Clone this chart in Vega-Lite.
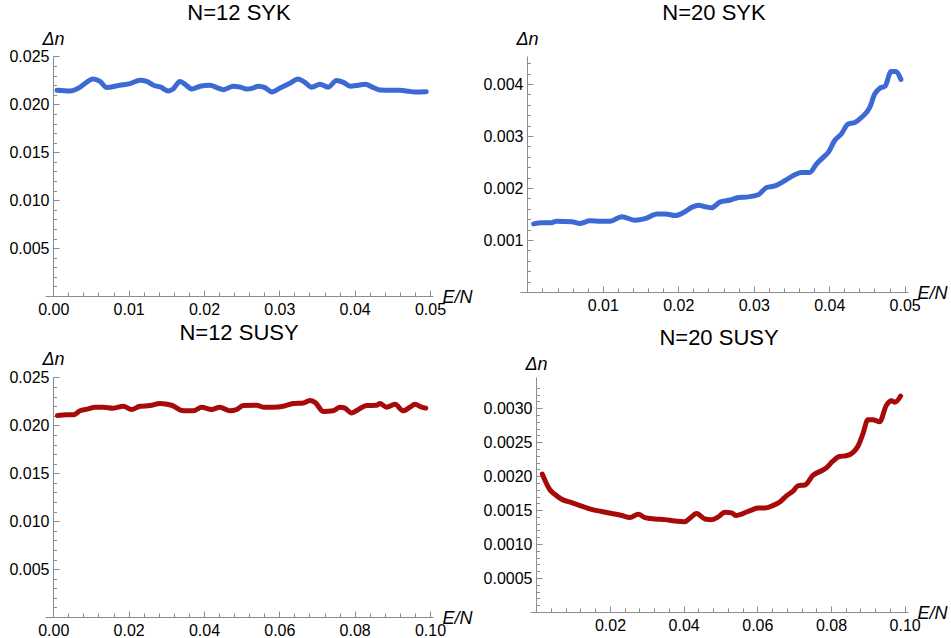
{
  "$schema": "https://vega.github.io/schema/vega-lite/v6.json",
  "padding": {"left": 8, "top": 2, "right": 4, "bottom": 4},
  "background": "white",
  "config": {
    "view": {"stroke": null},
    "axis": {"grid": false, "domainColor": "#8c8c8c", "tickColor": "#8c8c8c", "domainWidth": 1, "tickWidth": 1,
      "labelFont": "Liberation Sans", "labelFontSize": 16, "labelColor": "#000", "labelOverlap": false, "labelFlush": false,
      "tickSize": 0, "titleFont": "Liberation Sans", "titleFontSize": 18, "titleFontStyle": "italic", "titleFontWeight": "normal",
      "titleColor": "#000", "titleAngle": 0, "titlePadding": 0},
    "axisX": {"labelPadding": 5, "titleAlign": "left", "titleBaseline": "alphabetic", "titleY": 6},
    "axisY": {"labelPadding": 4, "titleAlign": "center", "titleBaseline": "alphabetic", "titleX": 0, "titleY": -12},
    "title": {"font": "Liberation Sans", "fontSize": 22, "fontWeight": "normal", "color": "#000", "frame": "group", "anchor": "middle", "offset": 5}
  },
  "datasets": {
    "syk12": [
      {"x":0.0005,"y":0.02147},{"x":0.0022,"y":0.0214},{"x":0.0033,"y":0.02168},{"x":0.0053,"y":0.02266},{"x":0.0062,"y":0.0224},{"x":0.0071,"y":0.02175},{"x":0.0088,"y":0.0220},{"x":0.0102,"y":0.02217},{"x":0.0115,"y":0.02252},{"x":0.0124,"y":0.0224},{"x":0.0133,"y":0.0220},{"x":0.0142,"y":0.02182},{"x":0.0153,"y":0.0214},{"x":0.0159,"y":0.0216},{"x":0.0168,"y":0.0224},{"x":0.0175,"y":0.0221},{"x":0.0184,"y":0.0216},{"x":0.0195,"y":0.0219},{"x":0.0208,"y":0.0220},{"x":0.0217,"y":0.02175},{"x":0.0226,"y":0.02154},{"x":0.0239,"y":0.0219},{"x":0.0248,"y":0.0218},{"x":0.0257,"y":0.0216},{"x":0.0265,"y":0.0217},{"x":0.0272,"y":0.0219},{"x":0.0281,"y":0.02175},{"x":0.0290,"y":0.0213},{"x":0.0301,"y":0.0217},{"x":0.0314,"y":0.0222},{"x":0.0325,"y":0.02266},{"x":0.0334,"y":0.0223},{"x":0.0343,"y":0.0218},{"x":0.0354,"y":0.0221},{"x":0.0365,"y":0.0218},{"x":0.0376,"y":0.0225},{"x":0.0385,"y":0.0223},{"x":0.0394,"y":0.0219},{"x":0.0405,"y":0.0220},{"x":0.0414,"y":0.0221},{"x":0.0425,"y":0.02175},{"x":0.0434,"y":0.0215},{"x":0.0447,"y":0.02147},{"x":0.0460,"y":0.02147},{"x":0.0469,"y":0.0214},{"x":0.0480,"y":0.0213},{"x":0.0495,"y":0.02133}
    ],
    "syk20": [
      {"x":0.00084,"y":0.00131},{"x":0.0019,"y":0.00133},{"x":0.0030,"y":0.00133},{"x":0.0039,"y":0.00136},{"x":0.0059,"y":0.00135},{"x":0.0070,"y":0.00132},{"x":0.0083,"y":0.00137},{"x":0.0097,"y":0.00136},{"x":0.0110,"y":0.00136},{"x":0.0125,"y":0.00145},{"x":0.0143,"y":0.00138},{"x":0.0156,"y":0.00141},{"x":0.0172,"y":0.0015},{"x":0.0183,"y":0.0015},{"x":0.0196,"y":0.00147},{"x":0.0207,"y":0.00153},{"x":0.0218,"y":0.00163},{"x":0.0227,"y":0.00167},{"x":0.0236,"y":0.00164},{"x":0.0244,"y":0.00162},{"x":0.0255,"y":0.00173},{"x":0.0269,"y":0.00177},{"x":0.0280,"y":0.00182},{"x":0.0293,"y":0.00183},{"x":0.0306,"y":0.00187},{"x":0.0317,"y":0.00201},{"x":0.0328,"y":0.00204},{"x":0.0341,"y":0.00214},{"x":0.0355,"y":0.00226},{"x":0.0363,"y":0.0023},{"x":0.0374,"y":0.0023},{"x":0.0383,"y":0.00246},{"x":0.0392,"y":0.00259},{"x":0.0399,"y":0.00269},{"x":0.0407,"y":0.00291},{"x":0.0416,"y":0.00304},{"x":0.0425,"y":0.00323},{"x":0.0434,"y":0.00326},{"x":0.0443,"y":0.00336},{"x":0.0454,"y":0.00356},{"x":0.0460,"y":0.0038},{"x":0.0467,"y":0.00392},{"x":0.0474,"y":0.00396},{"x":0.0482,"y":0.00424},{"x":0.0488,"y":0.00424},{"x":0.0495,"y":0.00409}
    ],
    "susy12": [
      {"x":0.0011,"y":0.02103},{"x":0.0035,"y":0.0211},{"x":0.0053,"y":0.0211},{"x":0.0071,"y":0.02152},{"x":0.0093,"y":0.02172},{"x":0.0111,"y":0.0219},{"x":0.0133,"y":0.0219},{"x":0.0159,"y":0.0218},{"x":0.0186,"y":0.0220},{"x":0.0208,"y":0.02166},{"x":0.0230,"y":0.0220},{"x":0.0257,"y":0.02207},{"x":0.0283,"y":0.02228},{"x":0.0314,"y":0.0221},{"x":0.0345,"y":0.02152},{"x":0.0372,"y":0.02152},{"x":0.0394,"y":0.0219},{"x":0.0420,"y":0.02166},{"x":0.0442,"y":0.0219},{"x":0.0469,"y":0.02152},{"x":0.0487,"y":0.02166},{"x":0.0504,"y":0.02207},{"x":0.0540,"y":0.0221},{"x":0.0558,"y":0.0219},{"x":0.0584,"y":0.0219},{"x":0.0611,"y":0.0220},{"x":0.0637,"y":0.02228},{"x":0.0664,"y":0.02234},{"x":0.0681,"y":0.0226},{"x":0.0695,"y":0.0224},{"x":0.0717,"y":0.02145},{"x":0.0743,"y":0.02152},{"x":0.0761,"y":0.0219},{"x":0.0774,"y":0.0218},{"x":0.0792,"y":0.0213},{"x":0.0810,"y":0.02166},{"x":0.0832,"y":0.02207},{"x":0.0858,"y":0.0221},{"x":0.0867,"y":0.02228},{"x":0.0885,"y":0.0219},{"x":0.0907,"y":0.0222},{"x":0.0929,"y":0.02152},{"x":0.0947,"y":0.0219},{"x":0.0960,"y":0.0222},{"x":0.0978,"y":0.0219},{"x":0.0989,"y":0.0218}
    ],
    "susy20": [
      {"x":0.00165,"y":0.00203},{"x":0.0026,"y":0.00191},{"x":0.0037,"y":0.0018},{"x":0.0051,"y":0.00173},{"x":0.0069,"y":0.00166},{"x":0.0096,"y":0.00161},{"x":0.0123,"y":0.00156},{"x":0.0150,"y":0.00151},{"x":0.0177,"y":0.00148},{"x":0.0205,"y":0.00145},{"x":0.0232,"y":0.00142},{"x":0.0254,"y":0.00139},{"x":0.0277,"y":0.00144},{"x":0.0295,"y":0.00139},{"x":0.0322,"y":0.00137},{"x":0.0349,"y":0.00136},{"x":0.0376,"y":0.00134},{"x":0.0403,"y":0.00133},{"x":0.0417,"y":0.00138},{"x":0.0435,"y":0.00145},{"x":0.0458,"y":0.00137},{"x":0.0476,"y":0.00136},{"x":0.0494,"y":0.0014},{"x":0.0512,"y":0.00147},{"x":0.0530,"y":0.00146},{"x":0.0543,"y":0.00142},{"x":0.0561,"y":0.00145},{"x":0.0584,"y":0.0015},{"x":0.0602,"y":0.00153},{"x":0.0620,"y":0.00153},{"x":0.0643,"y":0.00157},{"x":0.0661,"y":0.00162},{"x":0.0679,"y":0.00171},{"x":0.0697,"y":0.00178},{"x":0.0711,"y":0.00186},{"x":0.0729,"y":0.00187},{"x":0.0751,"y":0.00201},{"x":0.0774,"y":0.00208},{"x":0.0787,"y":0.00212},{"x":0.0805,"y":0.00222},{"x":0.0823,"y":0.00229},{"x":0.0841,"y":0.0023},{"x":0.0860,"y":0.00235},{"x":0.0873,"y":0.00244},{"x":0.0887,"y":0.00263},{"x":0.0900,"y":0.00283},{"x":0.0914,"y":0.00283},{"x":0.0932,"y":0.0028},{"x":0.0950,"y":0.00304},{"x":0.0964,"y":0.00311},{"x":0.0974,"y":0.00309},{"x":0.0989,"y":0.00318}
    ]
  },
  "vconcat": [
    {
      "hconcat": [
        {
          "title": {"text": "N=12 SYK"},
          "width": 388, "height": 240,
          "data": {"name": "syk12"},
          "mark": {"type": "line", "color": "#3c69d4", "strokeWidth": 5, "interpolate": "monotone", "strokeCap": "round", "strokeJoin": "round"},
          "encoding": {
            "x": {"field": "x", "type": "quantitative", "scale": {"domain": [-0.0011, 0.0504], "nice": false, "zero": false},
              "axis": {"title": "E/N", "titleX": 397,
                "values": [0,0.002,0.004,0.006,0.008,0.01,0.012,0.014,0.016,0.018,0.02,0.022,0.024,0.026,0.028,0.03,0.032,0.034,0.036,0.038,0.04,0.042,0.044,0.046,0.048,0.05],
                "labelExpr": "abs(datum.value*100-round(datum.value*100))<1e-6 ? format(datum.value,'.2f') : ''",
                "encoding": {"ticks": {"y2": {"condition": {"test": "abs(datum.value*100-round(datum.value*100))<1e-6", "value": -6}, "value": -4}}}}},
            "y": {"field": "y", "type": "quantitative", "scale": {"domain": [0, 0.02505], "nice": false, "zero": false},
              "axis": {"title": "Δn", "offset": -8,
                "values": [0.001,0.002,0.003,0.004,0.005,0.006,0.007,0.008,0.009,0.01,0.011,0.012,0.013,0.014,0.015,0.016,0.017,0.018,0.019,0.02,0.021,0.022,0.023,0.024,0.025],
                "labelExpr": "abs(datum.value*200-round(datum.value*200))<1e-6 ? format(datum.value,'.3f') : ''",
                "encoding": {"ticks": {"x2": {"condition": {"test": "abs(datum.value*200-round(datum.value*200))<1e-6", "value": 6}, "value": 3.5}}}}}
          }
        },
        {
          "title": {"text": "N=20 SYK"},
          "width": 388, "height": 236,
          "data": {"name": "syk20"},
          "mark": {"type": "line", "color": "#3c69d4", "strokeWidth": 5, "interpolate": "monotone", "strokeCap": "round", "strokeJoin": "round"},
          "encoding": {
            "x": {"field": "x", "type": "quantitative", "scale": {"domain": [-0.00097, 0.05044], "nice": false, "zero": false},
              "axis": {"title": "E/N", "titleX": 397,
                "values": [0.002,0.004,0.006,0.008,0.01,0.012,0.014,0.016,0.018,0.02,0.022,0.024,0.026,0.028,0.03,0.032,0.034,0.036,0.038,0.04,0.042,0.044,0.046,0.048,0.05],
                "labelExpr": "abs(datum.value*100-round(datum.value*100))<1e-6 ? format(datum.value,'.2f') : ''",
                "encoding": {"ticks": {"y2": {"condition": {"test": "abs(datum.value*100-round(datum.value*100))<1e-6", "value": -6}, "value": -4}}}}},
            "y": {"field": "y", "type": "quantitative", "scale": {"domain": [0, 0.00454], "nice": false, "zero": false},
              "axis": {"title": "Δn", "offset": -7,
                "values": [0.0002,0.0004,0.0006,0.0008,0.001,0.0012,0.0014,0.0016,0.0018,0.002,0.0022,0.0024,0.0026,0.0028,0.003,0.0032,0.0034,0.0036,0.0038,0.004,0.0042,0.0044],
                "labelExpr": "abs(datum.value*1000-round(datum.value*1000))<1e-6 ? format(datum.value,'.3f') : ''",
                "encoding": {"ticks": {"x2": {"condition": {"test": "abs(datum.value*1000-round(datum.value*1000))<1e-6", "value": 6}, "value": 3.5}}}}}
          }
        }
      ],
      "spacing": 87,
      "bounds": "flush"
    },
    {
      "hconcat": [
        {
          "title": {"text": "N=12 SUSY"},
          "width": 388, "height": 240,
          "data": {"name": "susy12"},
          "mark": {"type": "line", "color": "#a80a0a", "strokeWidth": 5, "interpolate": "monotone", "strokeCap": "round", "strokeJoin": "round"},
          "encoding": {
            "x": {"field": "x", "type": "quantitative", "scale": {"domain": [-0.0022, 0.1008], "nice": false, "zero": false},
              "axis": {"title": "E/N", "titleX": 397,
                "values": [0,0.004,0.008,0.012,0.016,0.02,0.024,0.028,0.032,0.036,0.04,0.044,0.048,0.052,0.056,0.06,0.064,0.068,0.072,0.076,0.08,0.084,0.088,0.092,0.096,0.1],
                "labelExpr": "abs(datum.value*50-round(datum.value*50))<1e-6 ? format(datum.value,'.2f') : ''",
                "encoding": {"ticks": {"y2": {"condition": {"test": "abs(datum.value*50-round(datum.value*50))<1e-6", "value": -6}, "value": -4}}}}},
            "y": {"field": "y", "type": "quantitative", "scale": {"domain": [0, 0.02505], "nice": false, "zero": false},
              "axis": {"title": "Δn", "titleY": -13, "offset": -8,
                "values": [0.001,0.002,0.003,0.004,0.005,0.006,0.007,0.008,0.009,0.01,0.011,0.012,0.013,0.014,0.015,0.016,0.017,0.018,0.019,0.02,0.021,0.022,0.023,0.024,0.025],
                "labelExpr": "abs(datum.value*200-round(datum.value*200))<1e-6 ? format(datum.value,'.3f') : ''",
                "encoding": {"ticks": {"x2": {"condition": {"test": "abs(datum.value*200-round(datum.value*200))<1e-6", "value": 6}, "value": 3.5}}}}}
          }
        },
        {
          "title": {"text": "N=20 SUSY"},
          "width": 378, "height": 235,
          "data": {"name": "susy20"},
          "mark": {"type": "line", "color": "#a80a0a", "strokeWidth": 5, "interpolate": "monotone", "strokeCap": "round", "strokeJoin": "round"},
          "encoding": {
            "x": {"field": "x", "type": "quantitative", "scale": {"domain": [-0.0017, 0.1009], "nice": false, "zero": false},
              "axis": {"title": "E/N", "titleX": 387,
                "values": [0.004,0.008,0.012,0.016,0.02,0.024,0.028,0.032,0.036,0.04,0.044,0.048,0.052,0.056,0.06,0.064,0.068,0.072,0.076,0.08,0.084,0.088,0.092,0.096,0.1],
                "labelExpr": "abs(datum.value*50-round(datum.value*50))<1e-6 ? format(datum.value,'.2f') : ''",
                "encoding": {"ticks": {"y2": {"condition": {"test": "abs(datum.value*50-round(datum.value*50))<1e-6", "value": -6}, "value": -4}}}}},
            "y": {"field": "y", "type": "quantitative", "scale": {"domain": [0, 0.00346], "nice": false, "zero": false},
              "axis": {"title": "Δn", "titleY": -8, "offset": -6,
                "values": [0.0001,0.0002,0.0003,0.0004,0.0005,0.0006,0.0007,0.0008,0.0009,0.001,0.0011,0.0012,0.0013,0.0014,0.0015,0.0016,0.0017,0.0018,0.0019,0.002,0.0021,0.0022,0.0023,0.0024,0.0025,0.0026,0.0027,0.0028,0.0029,0.003,0.0031,0.0032,0.0033],
                "labelExpr": "abs(datum.value*2000-round(datum.value*2000))<1e-6 ? format(datum.value,'.4f') : ''",
                "encoding": {"ticks": {"x2": {"condition": {"test": "abs(datum.value*2000-round(datum.value*2000))<1e-6", "value": 6}, "value": 3.5}}}}}
          }
        }
      ],
      "spacing": 97,
      "bounds": "flush"
    }
  ],
  "spacing": 5
}
